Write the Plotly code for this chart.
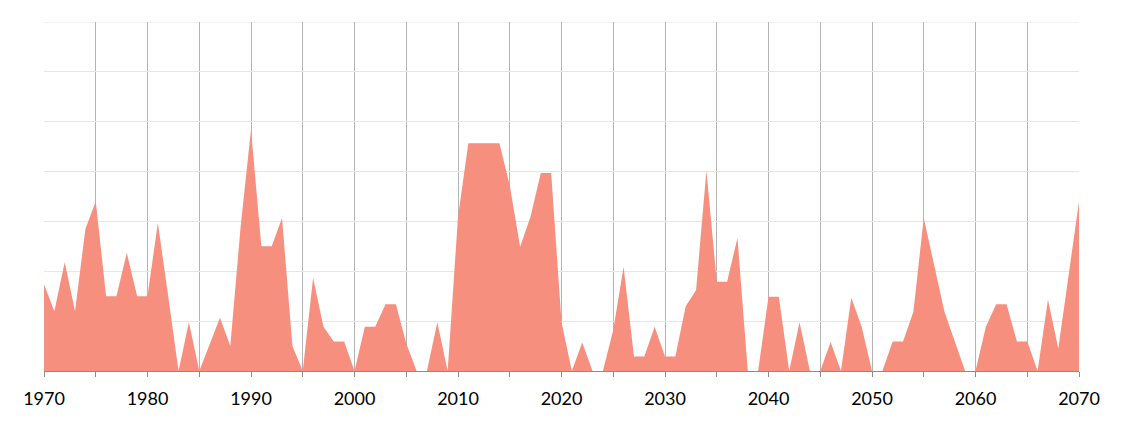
import plotly.graph_objects as go

years = list(range(1970, 2071))
values = [
    17.4, 12, 21.8, 12, 28.5, 34, 15, 15, 23.7, 15,          # 1970-1979
    15, 29.7, 15, 0, 9.8, 0, 5.3, 10.7, 5, 29,               # 1980-1989
    48.4, 25, 25, 30.7, 5, 0, 18.7, 8.9, 5.9, 5.9,           # 1990-1999
    0, 8.9, 8.9, 13.4, 13.4, 5.5, 0, 0, 9.8, 0,              # 2000-2009
    30.9, 45.7, 45.7, 45.7, 45.7, 37.2, 24.9, 30.9, 39.7, 39.7,  # 2010-2019
    9.8, 0, 5.7, 0, 0, 8.2, 20.9, 2.9, 2.9, 8.9,             # 2020-2029
    2.9, 2.9, 13, 16.2, 40.2, 17.9, 17.9, 26.7, 0, 0,        # 2030-2039
    14.9, 14.9, 0, 9.8, 0, 0, 5.8, 0, 14.7, 8.9,             # 2040-2049
    0, 0, 5.9, 5.9, 11.9, 30.7, 21.3, 11.9, 5.9, 0,          # 2050-2059
    0, 8.9, 13.4, 13.4, 5.9, 5.9, 0, 14.3, 4.5, 19.3,        # 2060-2069
    34,                                                      # 2070
]
label_years = list(range(1970, 2071, 10))

fig = go.Figure()
fig.add_trace(go.Scatter(
    x=years, y=values,
    mode="lines",
    line=dict(width=0, color="#f68f7e"),
    fill="tozeroy",
    fillcolor="#f68f7e",
    hoverinfo="x+y",
))

# page body has an 8px margin, so offsets are reduced by 8
fig.update_layout(
    width=1116, height=415,
    margin=dict(l=36, r=45, t=14, b=52),
    paper_bgcolor="white", plot_bgcolor="white",
    showlegend=False,
    font=dict(family="Lato, Open Sans, sans-serif", size=18, color="#000000"),
)
fig.update_xaxes(
    range=[1970, 2070],
    tickvals=label_years,
    ticktext=[str(y) for y in label_years],
    ticks="outside", ticklen=5, tickcolor="#8c8c8c",
    ticklabelstandoff=6,
    showgrid=True, gridcolor="#b4b4b4", gridwidth=1,
    minor=dict(dtick=5, tick0=1970, showgrid=True, gridcolor="#b4b4b4",
               ticks="outside", ticklen=5, tickcolor="#8c8c8c"),
    showline=True, linecolor="#8c8c8c", linewidth=1,
    zeroline=False,
    tickfont=dict(size=18),
)
fig.update_yaxes(
    range=[0, 70],
    dtick=10,
    showticklabels=False,
    showgrid=True, gridcolor="#e6e6e6", gridwidth=1,
    zeroline=False,
    showline=False,
)
# top gridline at the range end
fig.add_shape(type="line", xref="paper", yref="y", x0=0, x1=1, y0=70, y1=70,
              line=dict(color="#e6e6e6", width=1), layer="below")

fig.write_html("out.html")
